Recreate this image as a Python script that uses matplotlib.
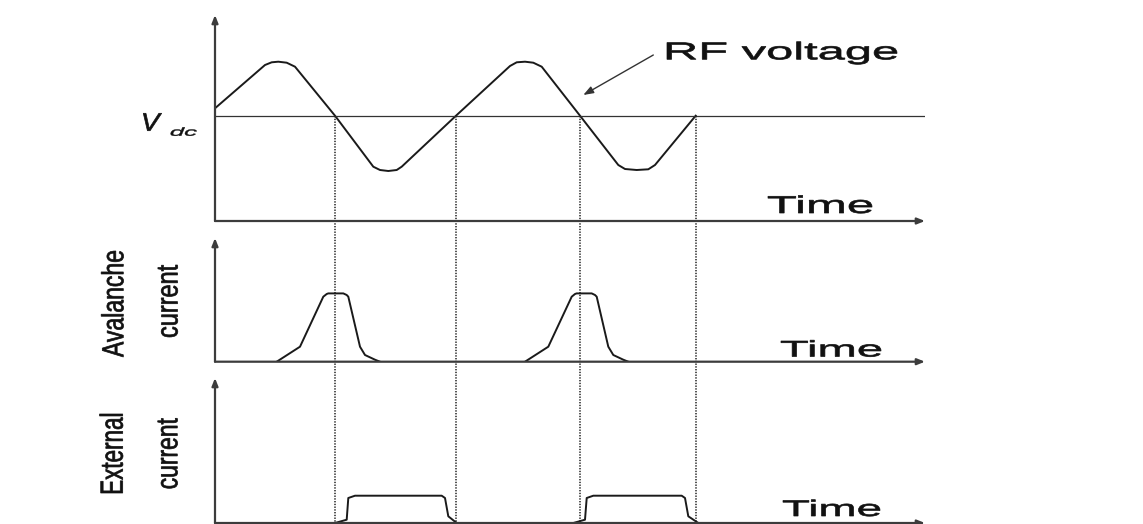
import matplotlib
matplotlib.use("Agg")
import matplotlib.pyplot as plt
from matplotlib.textpath import TextPath
from matplotlib.patches import PathPatch
from matplotlib.font_manager import FontProperties
from matplotlib.transforms import Affine2D

# RF voltage (one period and a bit more)
rf_t = [0.00, 0.50, 0.567, 0.633, 0.717, 0.80, 1.20, 1.583, 1.65, 1.733, 1.817, 1.867,
        2.41, 2.95, 3.017, 3.10, 3.183, 3.267, 3.65, 4.033, 4.10, 4.217, 4.333, 4.40, 4.807]
rf_v = [1.127, 1.56, 1.587, 1.593, 1.583, 1.543, 1.053, 0.543, 0.51, 0.50, 0.51, 0.543,
        1.053, 1.55, 1.587, 1.593, 1.583, 1.543, 1.053, 0.56, 0.52, 0.51, 0.517, 0.56, 1.053]
v_dc = 1.053

# zero crossings (dotted markers)
cross_t = [1.20, 2.41, 3.65, 4.807]

# avalanche current pulses
av1_t = [0.617, 0.85, 1.083, 1.117, 1.133, 1.283, 1.317, 1.333, 1.45, 1.50, 1.60, 1.65]
av2_t = [3.10, 3.333, 3.567, 3.60, 3.617, 3.767, 3.80, 3.817, 3.933, 3.983, 4.083, 4.133]
av_i = [0.0, 0.15, 0.65, 0.677, 0.683, 0.683, 0.667, 0.65, 0.15, 0.067, 0.02, 0.0]

# external current pulses
ex1_t = [1.20, 1.317, 1.333, 1.40, 2.267, 2.30, 2.333, 2.417]
ex2_t = [3.583, 3.70, 3.717, 3.783, 4.667, 4.70, 4.733, 4.833]
ex_i = [0.0, 0.033, 0.25, 0.273, 0.273, 0.25, 0.067, 0.0]

W, H = 1143, 524
axis_col = '#3c3c3c'
line_col = '#1a1a1a'

fig = plt.figure(figsize=(W / 100, H / 100), dpi=100)
fig.patch.set_facecolor('white')

def panel(top, bottom, ymax):
    ax = fig.add_axes([215 / W, (H - bottom) / H, 710 / W, (bottom - top) / H])
    ax.set_xlim(0, 7.10)
    ax.set_ylim(0, ymax)
    for sp in ax.spines.values():
        sp.set_visible(False)
    ax.set_xticks([])
    ax.set_yticks([])
    ax.patch.set_visible(False)
    kw = dict(arrowstyle='-|>,head_length=0.45,head_width=0.18', color=axis_col,
              lw=1.6, shrinkA=0, shrinkB=0)
    ax.annotate('', xy=(0, 1), xytext=(0, 0), xycoords='axes fraction',
                arrowprops=kw, annotation_clip=False)
    ax.annotate('', xy=(1, 0), xytext=(0, 0), xycoords='axes fraction',
                arrowprops=kw, annotation_clip=False)
    return ax

ax1 = panel(15, 221, 2.06)
ax2 = panel(238, 361.7, 1.237)
ax3 = panel(378, 523, 1.45)

# top: RF voltage and the dc level
ax1.plot(rf_t, rf_v, color=line_col, lw=1.4, solid_joinstyle='round')
ax1.plot([0, 7.10], [v_dc, v_dc], color='#333333', lw=0.9)
for t in cross_t:
    ax1.plot([t, t], [v_dc, -3.03], color='#222222', lw=1.1,
             linestyle=(0, (0.9, 0.9)), clip_on=False)
ax1.annotate('', xy=(3.683, 1.26), xytext=(4.383, 1.66),
             arrowprops=dict(arrowstyle='-|>,head_length=0.6,head_width=0.22',
                             color='#333333', lw=1.0, shrinkA=0, shrinkB=0))

# middle: avalanche current
ax2.plot(av1_t, av_i, color=line_col, lw=1.4)
ax2.plot(av2_t, av_i, color=line_col, lw=1.4)

# bottom: external current
ax3.plot(ex1_t, ex_i, color=line_col, lw=1.4)
ax3.plot(ex2_t, ex_i, color=line_col, lw=1.4)

# overlay in pixel units for the stretched lettering
ov = fig.add_axes([0, 0, 1, 1])
ov.set_xlim(0, W)
ov.set_ylim(0, H)
ov.axis('off')
ov.patch.set_visible(False)

def put_text(s, x, y, length, height, rot=0, ref='H', style='normal', bold=0.5):
    prop = FontProperties(family='Liberation Sans', style=style)
    tp = TextPath((0, 0), s, size=100, prop=prop)
    bb = tp.get_extents()
    top = TextPath((0, 0), ref, size=100, prop=prop).get_extents().y1
    tr = (Affine2D().translate(-bb.x0, 0).scale(length / bb.width, height / top)
          .rotate_deg(rot).translate(x, H - y))
    ov.add_patch(PathPatch(tp, transform=tr + ov.transData, fc='#111111',
                           ec='#111111', lw=bold))

put_text('RF voltage', 667, 59.3, 230, 16.7)
put_text('Time', 768, 213, 104, 16.7)
put_text('Time', 781, 356.5, 100, 15.5)
put_text('Time', 783, 516, 97, 15.5)

put_text('V', 143.3, 130.7, 18.4, 17.4, style='italic')
put_text('dc', 170.7, 135.7, 26, 8.4, ref='d', style='italic', bold=0.3)

put_text('Avalanche', 123.3, 357, 106, 21, rot=90, bold=0.5)
put_text('current', 177.5, 337, 72, 16, rot=90, ref='x', bold=0.5)
put_text('External', 122.7, 493, 79, 22, rot=90, bold=0.5)
put_text('current', 177.3, 488.3, 70, 16, rot=90, ref='x', bold=0.5)

fig.savefig('out.png', dpi=100, facecolor='white')
